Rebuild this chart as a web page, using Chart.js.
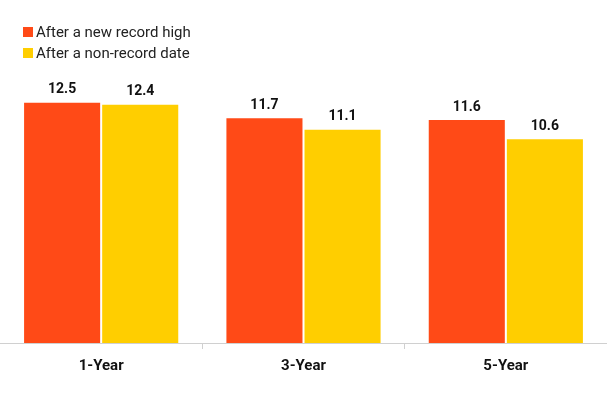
<!DOCTYPE html>
<html>
<head>
<meta charset="utf-8">
<script src="https://cdn.jsdelivr.net/npm/chart.js@4"></script>
<style>
  html, body { margin: 0; padding: 0; background: #fff; }
  #wrap { position: relative; width: 607px; height: 413px; }
  #legend { position: absolute; left: 23px; top: 21px; font: 15px Roboto, sans-serif; color: #222; }
  #legend div { display: flex; align-items: center; height: 21px; }
  #legend span { display: inline-block; width: 10px; height: 10px; margin-right: 3px; }
</style>
</head>
<body>
<div id="wrap">
  <canvas id="chart" width="607" height="413"></canvas>
  <div id="legend"></div>
</div>
<script>
// categories + series
const categories = ['1-Year', '3-Year', '5-Year'];
const recordHigh = [12.5, 11.7, 11.6];
const nonRecord = [12.4, 11.1, 10.6];
const seriesNames = ['After a new record high', 'After a non-record date'];
const colors = ['#FF4A17', '#FFCE00'];

// legend (html, stacked like the original)
document.getElementById('legend').innerHTML = seriesNames.map((n, i) =>
    `<div><span style="background:${colors[i]}"></span>${n}</div>`).join('');

// value labels above bars
const valueLabels = {
    id: 'valueLabels',
    afterDatasetsDraw(chart) {
        const ctx = chart.ctx;
        ctx.save();
        ctx.font = 'bold 14px Roboto, sans-serif';
        ctx.fillStyle = '#111';
        ctx.textAlign = 'center';
        ctx.textBaseline = 'bottom';
        chart.data.datasets.forEach((ds, i) => {
            chart.getDatasetMeta(i).data.forEach((bar, j) => {
                ctx.fillText(ds.data[j].toFixed(1), bar.x, bar.y - 6);
            });
        });
        ctx.restore();
    }
};

new Chart(document.getElementById('chart'), {
    type: 'bar',
    data: {
        labels: categories,
        datasets: [
            { label: seriesNames[0], data: recordHigh, backgroundColor: colors[0] },
            { label: seriesNames[1], data: nonRecord, backgroundColor: colors[1] }
        ]
    },
    options: {
        responsive: false,
        animation: false,
        categoryPercentage: 0.772,
        barPercentage: 0.974,
        layout: { padding: { top: 74, bottom: 30, left: 0, right: 0 } },
        plugins: { legend: { display: false }, tooltip: { enabled: false } },
        scales: {
            y: { display: false, min: 0, max: 14 },
            x: {
                offset: true,
                border: { color: '#d0d0d0', width: 1 },
                grid: { offset: true, drawOnChartArea: false, color: '#d0d0d0', tickLength: 6 },
                ticks: { color: '#111', font: { family: 'Roboto, sans-serif', size: 15, weight: 'bold' }, padding: 8 }
            }
        }
    },
    plugins: [valueLabels]
});
</script>
</body>
</html>
